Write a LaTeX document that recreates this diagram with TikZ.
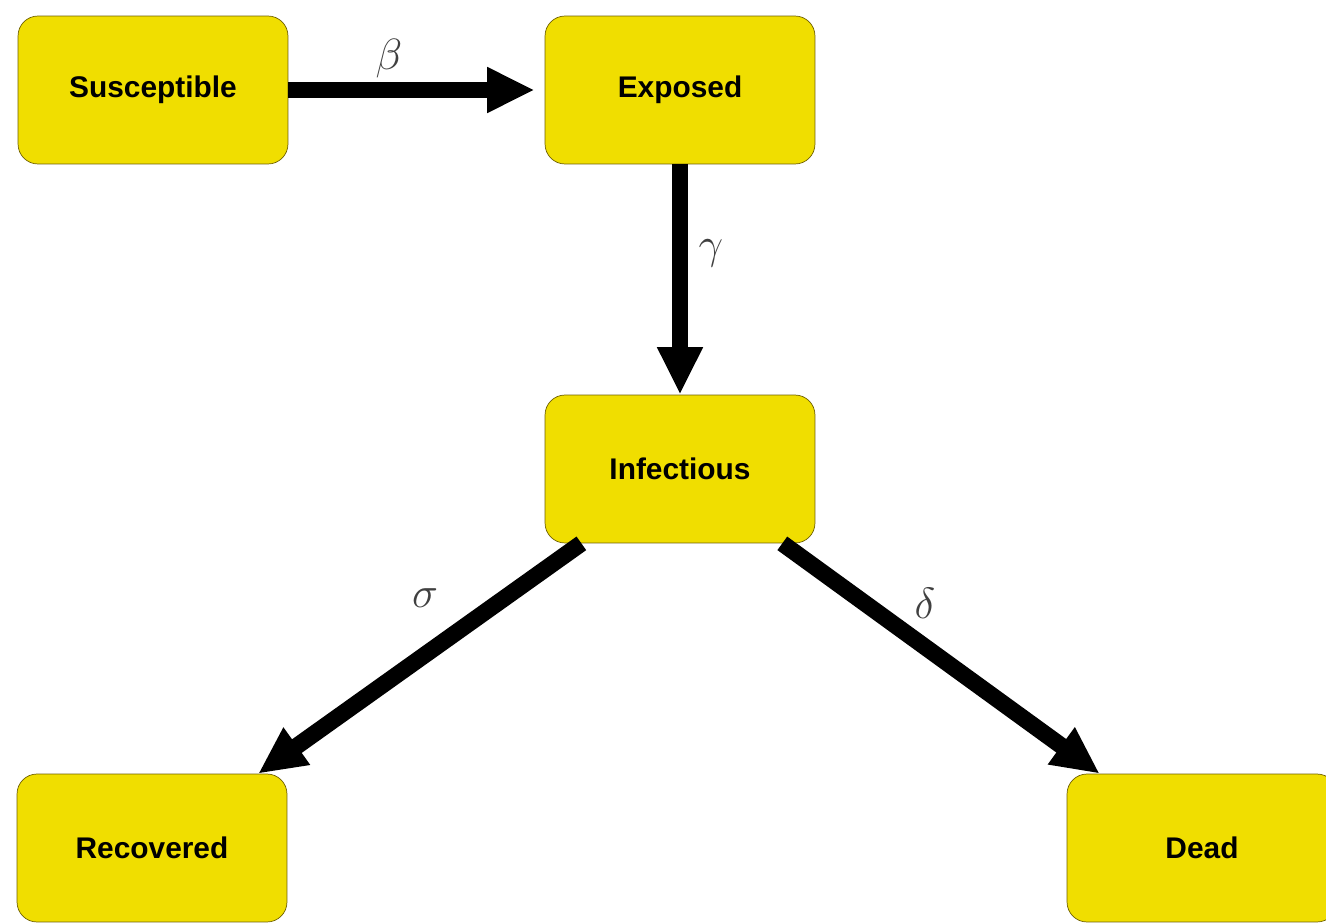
\documentclass[tikz,border=0pt]{standalone}
\usepackage{fontspec}
\setsansfont{Liberation Sans}
\usepackage{amsmath}
\usepackage{xcolor}
\usetikzlibrary{arrows.meta}
\definecolor{boxfill}{RGB}{240,222,0}
\definecolor{boxline}{RGB}{110,95,0}

\begin{document}
\begin{tikzpicture}[x=0.02cm,y=-0.02cm,
  compartment/.style={draw=boxline, fill=boxfill, rounded corners=0.4cm,
    minimum width=5.4cm, minimum height=2.96cm, inner sep=0pt,
    font=\sffamily\bfseries\fontsize{17}{20}\selectfont},
  flow/.style={line width=9.5pt, -{Triangle[length=0.95cm,width=0.85cm]}},
  rate/.style={font=\fontsize{27}{30}\selectfont, text=black!75}]
  \clip (0,0) rectangle (1326,923);
  % the five compartments
  \node[compartment] (S) at (153,90) {Susceptible};
  \node[compartment] (E) at (680,90) {Exposed};
  \node[compartment] (I) at (680,469) {Infectious};
  \node[compartment] (R) at (152,848) {Recovered};
  \node[compartment] (D) at (1202,848) {Dead};
  % transitions between them
  \draw[flow, shorten >=0.2cm] (S.east) -- (E.west);
  \draw[flow] (E.south) -- (I.north);
  \draw[flow] (I.217) -- (R.35);
  \draw[flow] (I.-36) -- (D.144);
  % rates
  \node[rate] (beta) at (389,59) {$\beta$};
  \node[rate] (gamma) at (711,253) {$\gamma$};
  \node[rate] (sigma) at (425,598) {$\sigma$};
  \node[rate] (delta) at (925,603) {$\delta$};
\end{tikzpicture}
\end{document}
